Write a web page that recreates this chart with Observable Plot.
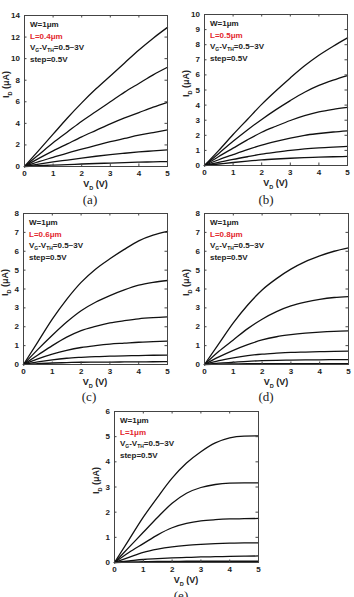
<!DOCTYPE html>
<html><head><meta charset="utf-8">
<script src="https://cdn.jsdelivr.net/npm/d3@7"></script>
<script src="https://cdn.jsdelivr.net/npm/@observablehq/plot@0.6"></script>
<style>
body{margin:0;background:#fff;}
#fig{position:relative;width:354px;height:597px;overflow:hidden;background:#fff;}
.panel{position:absolute;}
.panel svg{overflow:visible;}
.cap{position:absolute;font-family:"Liberation Serif","Times New Roman",serif;font-size:13px;color:#222;transform:translate(-50%,-50%);white-space:nowrap;}
</style></head><body><div id="fig"></div>
<script>
// ---- data ----
const vd = [0,0.5,1,1.5,2,2.5,3,3.5,4,4.5,5];           // V_D (V)
const vov = [0.5,1,1.5,2,2.5,3];                          // V_G - V_TH (V)
const xTicks = [0,1,2,3,4,5];
const yTicksA = [0,2,4,6,8,10,12,14];
const yTicksB = [0,1,2,3,4,5,6,7,8,9,10];
const yTicksC = [0,1,2,3,4,5,6,7,8];
const yTicksD = [0,1,2,3,4,5,6,7,8];
const yTicksE = [0,1,2,3,4,5,6];
const lengths = ["L=0.4μm","L=0.5μm","L=0.6μm","L=0.8μm","L=1μm"];
const captions = ["(a)","(b)","(c)","(d)","(e)"];
// I_D (μA), one row per V_G-V_TH, values at vd
const idA = [
  [0,0.07,0.13,0.18,0.23,0.28,0.32,0.36,0.40,0.43,0.46],
  [0,0.22,0.42,0.60,0.78,0.95,1.10,1.23,1.35,1.45,1.55],
  [0,0.45,0.85,1.25,1.60,1.95,2.30,2.60,2.90,3.15,3.40],
  [0,0.75,1.45,2.10,2.75,3.35,3.95,4.50,5.00,5.50,5.95],
  [0,1.10,2.20,3.20,4.20,5.10,6.00,6.90,7.70,8.50,9.20],
  [0,1.50,3.00,4.50,5.90,7.20,8.40,9.60,10.8,11.9,12.9]
];
const idB = [
  [0,0.10,0.20,0.29,0.37,0.43,0.48,0.52,0.55,0.58,0.60],
  [0,0.20,0.40,0.58,0.75,0.88,1.00,1.10,1.17,1.22,1.26],
  [0,0.38,0.72,1.05,1.35,1.60,1.82,2.00,2.12,2.22,2.30],
  [0,0.60,1.15,1.70,2.20,2.60,2.98,3.30,3.55,3.72,3.85],
  [0,0.80,1.60,2.35,3.05,3.70,4.30,4.85,5.30,5.65,5.95],
  [0,1.00,2.05,3.05,4.05,4.95,5.80,6.60,7.30,7.90,8.45]
];
const idC = [
  [0,0.05,0.08,0.10,0.12,0.125,0.13,0.135,0.14,0.145,0.15],
  [0,0.14,0.25,0.33,0.38,0.42,0.44,0.46,0.47,0.49,0.50],
  [0,0.30,0.55,0.75,0.90,1.00,1.08,1.13,1.18,1.21,1.24],
  [0,0.50,1.00,1.45,1.80,2.02,2.20,2.32,2.42,2.48,2.52],
  [0,0.80,1.55,2.25,2.85,3.30,3.65,3.95,4.20,4.35,4.45],
  [0,1.20,2.40,3.45,4.35,5.05,5.60,6.10,6.55,6.85,7.05]
];
const idD = [
  [0,0.02,0.03,0.04,0.045,0.05,0.05,0.05,0.05,0.05,0.05],
  [0,0.07,0.12,0.17,0.20,0.22,0.23,0.24,0.25,0.255,0.26],
  [0,0.20,0.35,0.47,0.55,0.60,0.64,0.66,0.68,0.70,0.71],
  [0,0.40,0.75,1.05,1.30,1.47,1.58,1.66,1.72,1.76,1.78],
  [0,0.70,1.30,1.90,2.40,2.80,3.10,3.30,3.45,3.55,3.60],
  [0,1.10,2.20,3.15,3.95,4.55,5.05,5.45,5.75,6.00,6.18]
];
const idE = [
  [0,0.02,0.03,0.04,0.04,0.05,0.05,0.05,0.05,0.05,0.05],
  [0,0.06,0.12,0.15,0.18,0.20,0.22,0.23,0.24,0.25,0.26],
  [0,0.20,0.40,0.53,0.62,0.68,0.72,0.75,0.77,0.78,0.78],
  [0,0.40,0.75,1.10,1.38,1.55,1.65,1.70,1.73,1.74,1.75],
  [0,0.60,1.20,1.80,2.35,2.75,2.98,3.10,3.15,3.16,3.16],
  [0,0.90,1.80,2.60,3.35,3.95,4.40,4.75,4.95,5.02,5.03]
];

// ---- layout ----
const layout = [
  {data:idA, yticks:yTicksA, left:0,   top:0,   width:177, height:190, ml:24, mr:10, mt:15, mb:24, capX:90,  capY:200},
  {data:idB, yticks:yTicksB, left:177, top:0,   width:177, height:190, ml:27, mr:7,  mt:14, mb:25, capX:266, capY:200},
  {data:idC, yticks:yTicksC, left:0,   top:195, width:177, height:193, ml:23, mr:10, mt:18, mb:24, capX:89,  capY:397},
  {data:idD, yticks:yTicksD, left:177, top:195, width:177, height:193, ml:27, mr:6,  mt:18, mb:24, capX:266, capY:397},
  {data:idE, yticks:yTicksE, left:90,  top:390, width:180, height:196, ml:24, mr:12, mt:21, mb:24, capX:181, capY:596}
];
const FONT = '"Liberation Sans", Arial, sans-serif';
const fig = document.getElementById("fig");

function richText(sel, parts, attrs, size){
  const t = sel.append("text").attr("font-family", FONT).attr("font-weight","bold")
    .attr("font-size", size + "px").attr("text-anchor", "start");
  for (const k in attrs) t.attr(k, attrs[k]);
  let low = false;
  for (const [str, sub] of parts){
    const ts = t.append("tspan").text(str);
    if (sub && !low){ ts.attr("dy", size*0.28).attr("font-size", (size*0.62)+"px"); low = true; }
    else if (sub && low){ ts.attr("font-size", (size*0.62)+"px"); }
    else if (!sub && low){ ts.attr("dy", -size*0.28); low = false; }
  }
  return t;
}

layout.forEach((p, k) => {
  const rows = [];
  p.data.forEach((s, i) => s.forEach((v, j) => rows.push({vd: vd[j], id: v, vov: vov[i]})));
  const iw = p.width - p.ml - p.mr, ih = p.height - p.mt - p.mb;
  const T = 2.5;
  const svg = Plot.plot({
    width: p.width, height: p.height,
    marginLeft: p.ml, marginRight: p.mr, marginTop: p.mt, marginBottom: p.mb,
    style: {fontFamily: FONT, fontSize: "8px", fontWeight: "bold", color: "#222", background: "transparent", overflow: "visible"},
    x: {domain: [0, 5], ticks: xTicks, tickSize: 0, tickPadding: 4, label: null, tickFormat: d3.format("d")},
    y: {domain: [0, d3.max(p.yticks)], ticks: p.yticks, tickSize: 0, tickPadding: 4.5, label: null, tickFormat: d3.format("d")},
    marks: [
      Plot.line(rows, {x: "vd", y: "id", z: "vov", stroke: "#111", strokeWidth: 1.3, curve: "monotone-x"}),
      Plot.tickX(xTicks, {x: d => d, stroke: "#444", insetTop: ih - T}),
      Plot.tickX(xTicks, {x: d => d, stroke: "#444", insetBottom: ih - T}),
      Plot.tickY(p.yticks, {y: d => d, stroke: "#444", insetRight: iw - T}),
      Plot.tickY(p.yticks, {y: d => d, stroke: "#444", insetLeft: iw - T}),
      Plot.frame({stroke: "#444", strokeWidth: 1})
    ]
  });
  const s = d3.select(svg);
  const fx = p.ml, fy = p.mt;
  richText(s, [["V"],["D",true],[" (V)"]], {x: fx + iw/2, y: fy + ih + 21, "text-anchor": "middle", fill: "#222"}, 9);
  richText(s, [["I"],["D",true],[" (μA)"]], {transform: `translate(${fx - 15},${fy + ih*0.46}) rotate(-90)`, "text-anchor": "middle", fill: "#222"}, 9);
  const ax = fx + 6, ay = fy + 12;
  richText(s, [["W=1μm"]], {x: ax, y: ay, fill: "#222"}, 8);
  richText(s, [[lengths[k]]], {x: ax, y: ay + 11.5, fill: "#e3262d"}, 8);
  richText(s, [["V"],["G",true],["-V"],["TH",true],["=0.5~3V"]], {x: ax, y: ay + 23, fill: "#222"}, 8);
  richText(s, [["step=0.5V"]], {x: ax, y: ay + 34.5, fill: "#222"}, 8);

  const div = document.createElement("div");
  div.className = "panel";
  div.style.left = p.left + "px"; div.style.top = p.top + "px";
  div.appendChild(svg);
  fig.appendChild(div);
  const cap = document.createElement("div");
  cap.className = "cap";
  cap.style.left = p.capX + "px"; cap.style.top = p.capY + "px";
  cap.textContent = captions[k];
  fig.appendChild(cap);
});
</script></body></html>
